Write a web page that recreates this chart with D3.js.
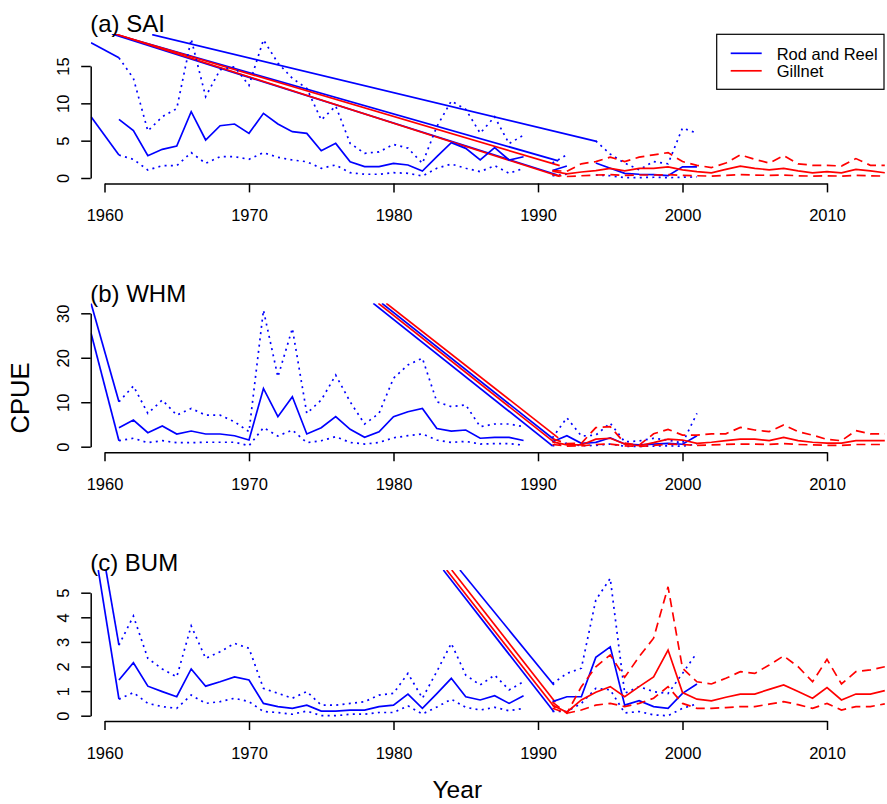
<!DOCTYPE html>
<html>
<head>
<meta charset="utf-8">
<script src="https://cdn.jsdelivr.net/npm/d3@7"></script>
<style>
  body { margin: 0; background: #fff; }
  svg { display: block; }
  text { font-family: "Liberation Sans", Arial, sans-serif; fill: #000; }
</style>
</head>
<body>
<div id="chart"></div>
<script>
// Rod and reel years (1990 missing everywhere), gillnet years
const rrYears = d3.range(1961, 2002);
const gnYears = d3.range(1991, 2015);

// (a) SAI
const saiRRMean = [7.86, 6.34, 2.99, 3.84, 4.29, 8.88, 5.09, 7.0, 7.23, 5.98, 8.66, 7.23, 6.2, 5.98, 3.66, 4.64, 2.18, 1.52, 1.52, 1.96, 1.74, 0.94, 2.85, 4.73, 3.97, 2.41, 4.06, 2.41, 2.85, null, 1.0, 1.6, null, 2.0, 1.3, 0.63, 0.5, 0.45, 0.31, 1.5, 1.5];
const saiRRUpper = [16.1, 13.35, 6.3, 8.2, 9.3, 18.6, 10.9, 14.5, 14.9, 12.4, 18.5, 15.4, 13.35, 12.0, 7.77, 9.64, 4.64, 3.3, 3.5, 4.5, 4.0, 1.96, 6.9, 10.3, 9.2, 6.0, 8.2, 4.6, 5.75, null, 2.0, 3.1, null, 4.96, 3.2, 2.0, 1.1, 2.2, 1.9, 6.7, 6.0];
const saiRRLower = [3.08, 2.5, 1.07, 1.65, 1.65, 3.4, 1.96, 2.86, 2.86, 2.5, 3.4, 2.77, 2.41, 2.18, 1.3, 1.74, 0.71, 0.5, 0.5, 0.71, 0.63, 0.27, 1.3, 1.87, 1.3, 0.85, 1.65, 0.63, 1.3, null, 0.3, 0.5, null, 0.4, 0.3, 0.05, 0.05, 0.1, 0.05, 0.1, 0.15];
const saiGNMean = [0.9, 0.55, 0.8, 1.0, 1.3, 0.95, 1.3, 1.3, 1.5, 1.1, 0.85, 0.7, 1.15, 1.6, 1.3, 1.1, 1.3, 0.95, 0.7, 0.85, 0.7, 1.15, 0.95, 0.7];
const saiGNUpper = [1.0, 0.9, 1.9, 2.2, 2.8, 2.2, 2.8, 3.1, 3.4, 2.2, 1.7, 1.4, 2.0, 3.1, 2.5, 2.0, 3.0, 1.9, 1.7, 1.7, 1.6, 2.6, 1.7, 1.7];
const saiGNLower = [0.4, 0.2, 0.3, 0.4, 0.45, 0.35, 0.4, 0.4, 0.45, 0.35, 0.3, 0.25, 0.35, 0.45, 0.4, 0.35, 0.4, 0.3, 0.25, 0.3, 0.25, 0.35, 0.3, 0.25];
// stray connecting segments: [year0, value0, year1, value1], source
const saiStrays = [
  {src: "rr", pts: [1959.07, 18.1, 1961, 16.1]},
  {src: "rr", pts: [1959.07, 8.2, 1961, 3.08]},
  {src: "rr", pts: [1960.52, 19.35, 1991.4, 2.3]},
  {src: "gn", pts: [1960.59, 19.35, 1991.5, 1.65]},
  {src: "rr", pts: [1960.52, 19.3, 1991.35, 0.4]},
  {src: "gn", pts: [1960.66, 19.35, 1991.5, 0.2]},
  {src: "rr", pts: [1963.3, 19.2, 1994.05, 4.9]}
];
const saiTicks = [0, 5, 10, 15];

// (b) WHM
const whmRRMean = [4.27, 6.0, 3.15, 4.65, 2.86, 3.53, 2.86, 2.86, 2.47, 1.5, 13.1, 6.75, 11.25, 2.86, 4.27, 6.75, 3.9, 2.1, 3.37, 6.75, 7.87, 8.6, 4.1, 3.5, 3.75, 1.9, 2.1, 2.1, 1.4, null, 1.1, 2.47, 0.75, 0.98, 2.0, 0.6, 0.4, 0.6, 0.75, 0.55, 2.47];
const whmRRUpper = [10.1, 13.65, 7.5, 10.5, 7.1, 8.6, 7.1, 7.1, 5.6, 3.37, 30.7, 15.7, 26.6, 7.5, 10.5, 16.1, 10.1, 5.1, 7.5, 15.4, 18.4, 19.9, 10.1, 9.0, 9.4, 4.5, 5.1, 5.1, 4.5, null, 2.0, 6.5, 2.4, 2.6, 5.3, 1.1, 1.3, 1.9, 1.5, 0.8, 7.5];
const whmRRLower = [1.35, 1.9, 0.9, 1.35, 0.9, 0.9, 1.0, 1.0, 1.0, 0.22, 4.27, 2.4, 3.75, 0.9, 1.35, 2.25, 0.95, 0.6, 0.95, 2.0, 2.47, 2.86, 1.5, 0.95, 1.2, 0.6, 0.7, 0.7, 0.35, null, 0.2, 0.8, 0.2, 0.3, 0.6, 0.1, 0.05, 0.15, 0.2, 0.1, 0.6];
const whmGNMean = [1.1, 0.4, 0.4, 1.7, 1.9, 0.6, 0.22, 0.9, 1.7, 1.5, 0.75, 1.0, 1.35, 1.7, 1.7, 1.35, 2.1, 1.35, 1.0, 0.8, 0.8, 1.35, 1.35, 1.35];
const whmGNUpper = [1.8, 0.7, 0.75, 4.3, 4.5, 0.8, 0.35, 2.9, 3.9, 2.6, 2.6, 2.9, 2.9, 4.35, 3.75, 3.4, 4.9, 3.4, 2.6, 1.65, 1.35, 3.6, 2.9, 2.9];
const whmGNLower = [0.5, 0.15, 0.2, 0.5, 0.6, 0.2, 0.05, 0.3, 0.6, 0.5, 0.3, 0.4, 0.5, 0.6, 0.6, 0.5, 0.7, 0.5, 0.4, 0.3, 0.3, 0.5, 0.5, 0.5];
const whmStrays = [
  {src: "rr", pts: [1959.07, 32.2, 1961, 10.1]},
  {src: "rr", pts: [1959.07, 25.5, 1961, 1.35]},
  {src: "rr", pts: [1978.6, 32.25, 1991.0, 0.2]},
  {src: "gn", pts: [1978.95, 32.25, 1991.2, 0.8]},
  {src: "rr", pts: [1979.2, 32.25, 1991.2, 1.4]},
  {src: "gn", pts: [1979.5, 32.25, 1991.4, 2.0]}
];
const whmTicks = [0, 10, 20, 30];

// (c) BUM
const bumRRMean = [1.45, 2.15, 1.2, 0.98, 0.77, 1.9, 1.2, 1.38, 1.58, 1.45, 0.5, 0.37, 0.3, 0.43, 0.19, 0.19, 0.23, 0.23, 0.37, 0.43, 0.88, 0.3, 0.9, 1.52, 0.77, 0.64, 0.81, 0.5, 0.81, null, 0.57, 0.77, 0.77, 2.37, 2.8, 0.43, 0.61, 0.37, 0.3, 0.91, 1.29];
const bumRRUpper = [2.87, 4.05, 2.33, 1.9, 1.58, 3.65, 2.33, 2.6, 2.94, 2.74, 1.11, 0.91, 0.71, 0.98, 0.43, 0.43, 0.5, 0.57, 0.84, 0.91, 1.72, 0.71, 1.8, 2.94, 1.65, 1.25, 1.65, 1.05, 1.38, null, 1.3, 1.72, 1.93, 4.7, 5.58, 0.91, 1.18, 0.98, 0.9, 1.72, 2.56];
const bumRRLower = [0.67, 0.94, 0.5, 0.37, 0.3, 0.84, 0.5, 0.57, 0.71, 0.57, 0.17, 0.13, 0.06, 0.19, 0.0, 0.0, 0.06, 0.06, 0.13, 0.13, 0.4, 0.07, 0.35, 0.67, 0.34, 0.23, 0.34, 0.2, 0.3, null, 0.17, 0.17, 0.5, 1.11, 1.05, 0.11, 0.17, 0.03, 0.0, 0.3, 0.48];
const bumGNMean = [0.43, 0.14, 0.64, 0.95, 1.18, 0.77, 1.18, 1.58, 2.67, 0.94, 0.67, 0.6, 0.75, 0.88, 0.88, 1.07, 1.25, 0.98, 0.71, 1.14, 0.64, 0.88, 0.88, 1.02];
const bumGNUpper = [0.55, 0.1, 1.18, 1.99, 2.47, 1.56, 2.4, 3.15, 5.24, 1.93, 1.38, 1.29, 1.52, 1.79, 1.72, 2.06, 2.43, 1.99, 1.38, 2.29, 1.29, 1.79, 1.86, 1.99];
const bumGNLower = [0.3, 0.1, 0.23, 0.43, 0.5, 0.37, 0.5, 0.71, 1.18, 0.5, 0.3, 0.3, 0.33, 0.37, 0.37, 0.47, 0.57, 0.45, 0.3, 0.5, 0.23, 0.37, 0.37, 0.48];
const bumStrays = [
  {src: "rr", pts: [1959.57, 5.92, 1961, 0.67]},
  {src: "rr", pts: [1960.1, 5.92, 1961, 2.87]},
  {src: "rr", pts: [1983.45, 5.92, 1991.1, 0.16]},
  {src: "gn", pts: [1983.68, 5.92, 1991.2, 0.3]},
  {src: "gn", pts: [1984.03, 5.92, 1991.2, 0.55]},
  {src: "rr", pts: [1984.6, 5.92, 1991.1, 1.25]}
];
const bumTicks = [0, 1, 2, 3, 4, 5];

const xTicks = [1960, 1970, 1980, 1990, 2000, 2010];
const legendLabels = ["Rod and Reel", "Gillnet"];

const width = 887, height = 804;
const FONT = '"Liberation Sans", Arial, sans-serif';
const colors = {rr: "#0000ff", gn: "#ff0000"};

const svg = d3.select("#chart").append("svg")
  .attr("width", width)
  .attr("height", height);

const x = d3.scaleLinear().domain([1960, 2010]).range([104.5, 827]);
const plotLeft = 90.7;

// Panel layout: y pixel of first and last tick, top/bottom of plot region
const panels = [
  {id: "a", title: "(a) SAI", ticks: saiTicks, py: [178, 66], top: 34, bottom: 183.4, titleY: 32.3,
   rr: [saiRRMean, saiRRLower, saiRRUpper], gn: [saiGNMean, saiGNLower, saiGNUpper], strays: saiStrays},
  {id: "b", title: "(b) WHM", ticks: whmTicks, py: [446.7, 313.3], top: 303.3, bottom: 452.3, titleY: 301.7,
   rr: [whmRRMean, whmRRLower, whmRRUpper], gn: [whmGNMean, whmGNLower, whmGNUpper], strays: whmStrays},
  {id: "c", title: "(c) BUM", ticks: bumTicks, py: [715.7, 592.7], top: 570, bottom: 721, titleY: 570.7,
   rr: [bumRRMean, bumRRLower, bumRRUpper], gn: [bumGNMean, bumGNLower, bumGNUpper], strays: bumStrays}
];

panels.forEach(p => {
  const y = d3.scaleLinear()
    .domain([p.ticks[0], p.ticks[p.ticks.length - 1]])
    .range(p.py);

  svg.append("clipPath").attr("id", "clip-" + p.id)
    .append("rect")
    .attr("x", plotLeft).attr("y", p.top)
    .attr("width", width - plotLeft).attr("height", p.bottom - p.top);

  const g = svg.append("g").attr("clip-path", `url(#clip-${p.id})`);

  const line = d3.line()
    .defined(d => d.v != null)
    .x(d => x(d.year))
    .y(d => y(d.v));

  // stray solid segments
  p.strays.forEach(s => {
    g.append("path")
      .datum([{year: s.pts[0], v: s.pts[1]}, {year: s.pts[2], v: s.pts[3]}])
      .attr("fill", "none")
      .attr("stroke", colors[s.src])
      .attr("stroke-width", 1.7)
      .attr("d", line);
  });

  // rod and reel: mean solid, CI dotted
  p.rr.forEach((vals, i) => {
    g.append("path")
      .datum(rrYears.map((yr, j) => ({year: yr, v: vals[j]})))
      .attr("fill", "none")
      .attr("stroke", colors.rr)
      .attr("stroke-width", 1.7)
      .attr("stroke-dasharray", i === 0 ? null : "2,4.3")
      .attr("d", line);
  });

  // gillnet: mean solid, CI dashed
  p.gn.forEach((vals, i) => {
    g.append("path")
      .datum(gnYears.map((yr, j) => ({year: yr, v: vals[j]})))
      .attr("fill", "none")
      .attr("stroke", colors.gn)
      .attr("stroke-width", 1.7)
      .attr("stroke-dasharray", i === 0 ? null : "9,5.5")
      .attr("d", line);
  });

  // y axis
  const ya = svg.append("g")
    .attr("transform", `translate(${plotLeft},0)`)
    .call(d3.axisLeft(y).tickValues(p.ticks).tickFormat(d3.format("d")).tickSize(9.5).tickSizeOuter(0));
  ya.selectAll("path, line").attr("stroke", "#000").attr("stroke-width", 1.5);
  ya.selectAll(".tick text")
    .attr("font-family", FONT).attr("font-size", 16.5).attr("fill", "#000")
    .attr("transform", "rotate(-90)")
    .attr("x", 0).attr("y", -22.2).attr("dy", 0)
    .attr("text-anchor", "middle");

  // x axis
  const xa = svg.append("g")
    .attr("transform", `translate(0,${p.bottom})`)
    .call(d3.axisBottom(x).tickValues(xTicks).tickFormat(d3.format("d")).tickSize(9).tickSizeOuter(0));
  xa.selectAll("path, line").attr("stroke", "#000").attr("stroke-width", 1.5);
  xa.selectAll(".tick text")
    .attr("font-family", FONT).attr("font-size", 16.5).attr("fill", "#000")
    .attr("y", 38).attr("dy", 0);

  // panel title
  svg.append("text")
    .attr("x", plotLeft - 0.5).attr("y", p.titleY)
    .attr("font-size", 24)
    .text(p.title);
});

// legend
const lg = svg.append("g");
lg.append("rect")
  .attr("x", 716.7).attr("y", 34.3).attr("width", 167.3).attr("height", 55)
  .attr("fill", "#fff").attr("stroke", "#000").attr("stroke-width", 1.2);
legendLabels.forEach((lab, i) => {
  const ly = 53.3 + i * 17.5;
  lg.append("line")
    .attr("x1", 730.7).attr("x2", 761.7).attr("y1", ly).attr("y2", ly)
    .attr("stroke", i === 0 ? colors.rr : colors.gn).attr("stroke-width", 1.7);
  lg.append("text")
    .attr("x", 776.7).attr("y", ly + 6.2)
    .attr("font-size", 16.5)
    .text(lab);
});

// axis titles
svg.append("text")
  .attr("x", 457.3).attr("y", 798.3)
  .attr("text-anchor", "middle").attr("font-size", 24.5)
  .text("Year");

svg.append("text")
  .attr("transform", "translate(28.5,398) rotate(-90)")
  .attr("text-anchor", "middle").attr("font-size", 25.5)
  .text("CPUE");
</script>
</body>
</html>
